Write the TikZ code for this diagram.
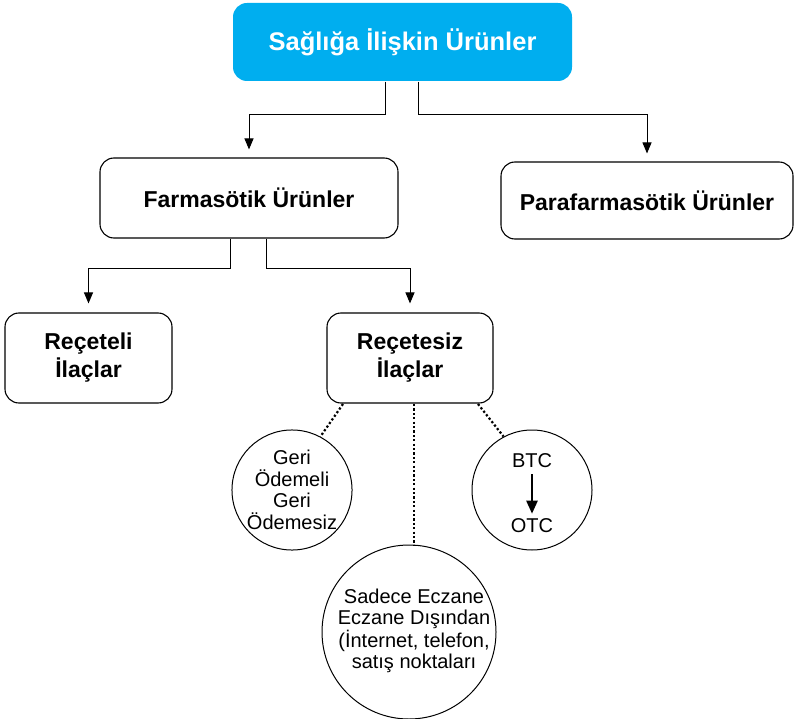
\documentclass[tikz,border=0pt]{standalone}
\usepackage{fontspec}
\setmainfont{Liberation Sans}
\usetikzlibrary{arrows.meta,calc}
\definecolor{topcyan}{HTML}{00AEEF}
\begin{document}
\begin{tikzpicture}[x=1pt,y=-1pt,
  rbox/.style={draw, line width=1.1pt, rounded corners=14pt, align=center, font=\bfseries\fontsize{23}{28}\selectfont, inner sep=0pt},
  circ/.style={draw, line width=1pt, circle, align=center, font=\fontsize{20}{21.5}\selectfont, inner sep=0pt},
  conn/.style={line width=1pt, -{Triangle[length=11pt,width=9pt]}},
  dots/.style={line width=2.2pt, dash pattern=on 2.2pt off 2.2pt}
]
\useasboundingbox (0,0) rectangle (794,719);
% top box
\node[rbox, draw=none, fill=topcyan, text=white, minimum width=339pt, minimum height=78pt, font=\bfseries\fontsize{25.5}{30}\selectfont] (top) at (402.5,42) {Sağlığa İlişkin Ürünler};
\node[rbox, minimum width=298pt, minimum height=80pt] (farma) at (249,198) {Farmasötik Ürünler};
\node[rbox, minimum width=292pt, minimum height=77pt] (para) at (647,200.5) {Parafarmasötik Ürünler};
\node[rbox, minimum width=167pt, minimum height=90pt] (rec) at (88.5,358) {Reçeteli\\İlaçlar};
\node[rbox, minimum width=166pt, minimum height=90pt] (recsiz) at (410,358) {Reçetesiz\\İlaçlar};
% circles
\node[circ, minimum size=120pt] (geri) at (292,490) {Geri\\Ödemeli\\Geri\\Ödemesiz};
\node[circ, minimum size=120pt] (btc) at (532,490) {};
\node[circ, minimum size=174pt] (sadece) at (409,632) {};
\node[font=\fontsize{20}{21.5}\selectfont, align=center, inner sep=0pt] (sadecet) at (414,631) {Sadece Eczane\\Eczane Dışından\\(İnternet, telefon,\\satış noktaları};
\node[font=\fontsize{20}{22}\selectfont, inner sep=0pt] (btct) at (532,461) {BTC};
\node[font=\fontsize{20}{22}\selectfont, inner sep=0pt] (otct) at (532,526) {OTC};
\draw[line width=2.4pt, -{Triangle[length=13pt,width=11pt]}] ($(btct.south)+(0,6)$) -- ($(otct.north)+(0,-5)$);
% connectors
\coordinate (t1) at (385,115);
\coordinate (t2) at (418,115);
\draw[conn] (top.south -| t1) -- (t1) -- (t1 -| farma) -- ([yshift=8pt]farma.north);
\draw[conn] (top.south -| t2) -- (t2) -- (t2 -| para) -- ([yshift=8pt]para.north);
\coordinate (f1) at (230,268);
\coordinate (f2) at (266,268);
\draw[conn] (farma.south -| f1) -- (f1) -- (f1 -| rec) -- ([yshift=9pt]rec.north);
\draw[conn] (farma.south -| f2) -- (f2) -- (f2 -| recsiz) -- ([yshift=9pt]recsiz.north);
% dotted
\coordinate (m1) at (414,404);
\coordinate (m2) at (414,545);
\draw[dots] (343,404) -- (geri.62);
\draw[dots] (m1) -- (m2);
\draw[dots] (478,404) -- (btc.118);
\end{tikzpicture}
\end{document}
